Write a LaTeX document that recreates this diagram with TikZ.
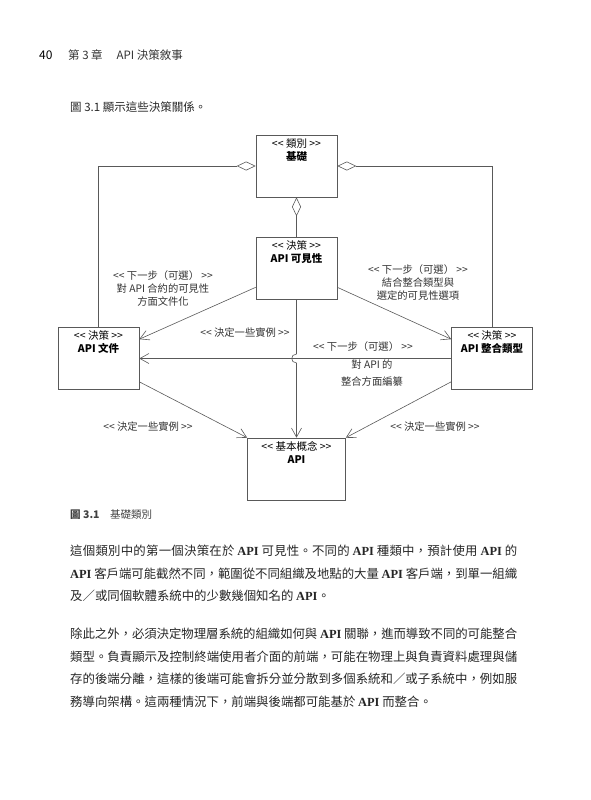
\documentclass[tikz,border=0pt]{standalone}
\usepackage{fontspec}
\setmainfont{Noto Sans CJK TC}
\newfontfamily\apifont{Liberation Serif}
\usetikzlibrary{arrows.meta}
\newcommand{\stereo}[1]{<\kern0pt< #1 >\kern0pt>}
\newcommand{\api}{{\apifont\bfseries API}}
\XeTeXlinebreaklocale "zh"
\XeTeXlinebreakskip=0pt plus 3pt minus 0.5pt

\begin{document}
\begin{tikzpicture}[x=1pt,y=-1pt,
    umlbox/.style={draw=black!65,line width=0.6pt,minimum width=81pt,minimum height=62pt,inner sep=0pt},
    boxtext/.style={anchor=north,align=center,inner sep=0pt,yshift=-3.5pt,font=\fontsize{10.5}{13}\selectfont},
    edgetext/.style={align=center,inner sep=0pt,text=black!80,font=\fontsize{10.3}{13}\selectfont},
    link/.style={draw=black!65,line width=0.6pt},
    agg/.style={link,{Diamond[open,length=19pt,width=9pt]}-},
    bodytext/.style={anchor=north west,align=justify,text width=447pt,inner sep=0pt,text=black!85,font=\fontsize{12.4}{22.6}\selectfont},
    >={Straight Barb[length=9pt,width=10pt]}]
\useasboundingbox (0,0) rectangle (591,800);

\node[anchor=west,inner sep=0pt,font=\fontsize{12}{13}\selectfont] (pageno) at (39,55) {40};
\node[anchor=west,inner sep=0pt,text=black!80,font=\fontsize{11.5}{13}\selectfont] (runhead) at (68,55) {第 3 章\hspace{1.2em}API 決策敘事};
\node[anchor=west,inner sep=0pt,text=black!85,font=\fontsize{11.5}{13}\selectfont] (intro) at (70,107) {圖 3.1 顯示這些決策關係。};

\node[umlbox] (base) at (296.5,166) {};
\node[boxtext] (base-t) at (base.north) {\stereo{類別}\\\textbf{基礎}};
\node[umlbox] (vis) at (296.5,268) {};
\node[boxtext] (vis-t) at (vis.north) {\stereo{決策}\\\textbf{API 可見性}};
\node[umlbox] (doc) at (98.5,358.5) {};
\node[boxtext] (doc-t) at (doc.north) {\stereo{決策}\\\textbf{API 文件}};
\node[umlbox] (intg) at (492,358.5) {};
\node[boxtext] (intg-t) at (intg.north) {\stereo{決策}\\\textbf{API 整合類型}};
\node[umlbox,minimum width=98pt] (api) at (296.5,469) {};
\node[boxtext] (api-t) at (api.north) {\stereo{基本概念}\\\textbf{API}};

\draw[agg] (base.west) -| (doc.north);
\draw[agg] (base.east) -| (intg.north);
\draw[agg] (base.south) -- (vis.north);
\draw[link,->] ([yshift=12pt]vis.south west) -- ([yshift=-12pt]doc.north east);
\draw[link,->] ([yshift=12pt]vis.south east) -- ([yshift=-12pt]intg.north west);
\draw[link,->] (intg.west) -- (doc.east);
\coordinate (hop) at (vis.south |- doc.east);
\draw[link,->] (vis.south) -- ([yshift=4.5pt]hop) to[out=180,in=180,looseness=1.8] ([yshift=-4.5pt]hop) -- (api.north);
\draw[link,->] ([yshift=8pt]doc.south east) -- (api.north west);
\draw[link,->] ([yshift=8pt]intg.south west) -- (api.north east);

\node[edgetext] (docnote) at (163,289) {\stereo{下一步（可選）}\\對 API 合約的可見性\\方面文件化};
\node[edgetext] (intnote) at (418,283) {\stereo{下一步（可選）}\\結合整合類型與\\選定的可見性選項};
\node[edgetext] (inst1) at (245,333) {\stereo{決定一些實例}};
\node[edgetext] (stepnote) at (363,347) {\stereo{下一步（可選）}};
\node[edgetext,font=\fontsize{10.3}{17}\selectfont] (codify) at (372,373) {對 API 的\\整合方面編纂};
\node[edgetext] (inst2) at (148,427) {\stereo{決定一些實例}};
\node[edgetext] (inst3) at (435,427) {\stereo{決定一些實例}};

\node[anchor=west,inner sep=0pt,text=black!75,font=\fontsize{10.5}{12}\selectfont] (caption) at (70,515) {\textbf{圖 3.1}\quad 基礎類別};

\node[bodytext] (para1) at (70,545) {\noindent 這個類別中的第一個決策在於 \api{} 可見性。不同的 \api{} 種類中，預計使用 \api{} 的\linebreak
\api{} 客戶端可能截然不同，範圍從不同組織及地點的大量 \api{} 客戶端，到單一組織\linebreak
及／或同個軟體系統中的少數幾個知名的 \api{}。};
\node[bodytext] (para2) at (70,628) {\noindent 除此之外，必須決定物理層系統的組織如何與 \api{} 關聯，進而導致不同的可能整合\linebreak
類型。負責顯示及控制終端使用者介面的前端，可能在物理上與負責資料處理與儲\linebreak
存的後端分離，這樣的後端可能會拆分並分散到多個系統和／或子系統中，例如服\linebreak
務導向架構。這兩種情況下，前端與後端都可能基於 \api{} 而整合。};
\end{tikzpicture}
\end{document}
